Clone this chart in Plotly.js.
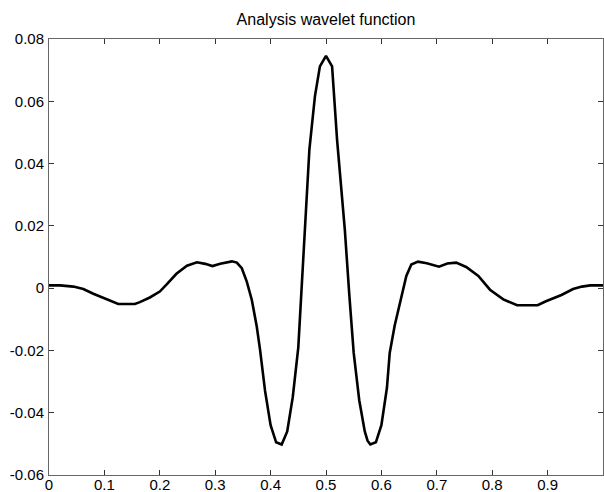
<!DOCTYPE html>
<html>
<head>
<meta charset="utf-8">
<script src="https://cdn.plot.ly/plotly-3.0.1.min.js"></script>
<style>html,body{margin:0;padding:0;background:#fff;}#chart{width:604px;height:492px;}</style>
</head>
<body>
<div id="chart"></div>
<script>
const xs = [0, 0.02, 0.044, 0.062, 0.08, 0.104, 0.125, 0.155, 0.164, 0.182, 0.2, 0.212, 0.23, 0.249, 0.267, 0.282, 0.295, 0.309, 0.33, 0.339, 0.348, 0.357, 0.366, 0.375, 0.381, 0.39, 0.40, 0.41, 0.42, 0.43, 0.44, 0.45, 0.46, 0.47, 0.48, 0.489, 0.5,
  0.511, 0.52, 0.534, 0.542, 0.55, 0.56, 0.57, 0.575, 0.58, 0.59, 0.60, 0.61, 0.615, 0.624, 0.633, 0.645, 0.654, 0.666, 0.682, 0.704, 0.719, 0.735, 0.753, 0.775, 0.796, 0.82, 0.845, 0.882, 0.897, 0.925, 0.946, 0.962, 0.977, 1.0];
const ys = [0.0009, 0.0009, 0.0005, -0.0003, -0.0018, -0.0035, -0.0051, -0.0051, -0.0045, -0.003, -0.0011, 0.0011, 0.0046, 0.0072, 0.0083, 0.0078, 0.0071, 0.0078, 0.0086, 0.0082, 0.0064, 0.0021, -0.0037, -0.0123, -0.0198, -0.033, -0.044, -0.0495, -0.0502, -0.046, -0.035, -0.019, 0.012, 0.0445, 0.0616, 0.0712, 0.0746,
  0.0712, 0.0476, 0.0187, -0.002, -0.0208, -0.036, -0.046, -0.049, -0.0502, -0.0495, -0.044, -0.032, -0.0208, -0.012, -0.0049, 0.0039, 0.0076, 0.0085, 0.008, 0.0069, 0.0079, 0.0082, 0.0068, 0.0039, -0.0005, -0.0036, -0.0055, -0.0055, -0.0042, -0.0022, -0.0003, 0.0005, 0.0009, 0.0009];

const xTickVals = [0, 0.1, 0.2, 0.3, 0.4, 0.5, 0.6, 0.7, 0.8, 0.9, 1];
const xTickText = ["0", "0.1", "0.2", "0.3", "0.4", "0.5", "0.6", "0.7", "0.8", "0.9", "1"];
const yTickVals = [-0.06, -0.04, -0.02, 0, 0.02, 0.04, 0.06, 0.08];
const yTickText = ["-0.06", "-0.04", "-0.02", "0", "0.02", "0.04", "0.06", "0.08"];

const fam = "Liberation Sans, Arial, Helvetica, sans-serif";
const font = {family: fam, size: 15, color: "#000"};
const axisCommon = {
  showline: true, linecolor: "#666", linewidth: 1, mirror: "ticks",
  ticks: "inside", ticklen: 5, tickcolor: "#333", tickwidth: 1,
  showgrid: false, zeroline: false, tickfont: font, tickmode: "array"
};

Plotly.newPlot("chart", [{
  x: xs, y: ys, type: "scatter", mode: "lines",
  line: {color: "#000", width: 2.6, shape: "linear"},
  hoverinfo: "none"
}], {
  width: 604, height: 492,
  margin: {l: 49, r: 1, t: 39, b: 17},
  paper_bgcolor: "#fff", plot_bgcolor: "#fff",
  showlegend: false,
  font: font,
  title: {text: "Analysis wavelet function", font: {family: fam, size: 16, color: "#000"}, x: 0.5, xref: "paper", y: 0.961, yref: "container", yanchor: "middle"},
  xaxis: Object.assign({}, axisCommon, {range: [0, 1], tickvals: xTickVals, ticktext: xTickText, ticklabelstandoff: -4}),
  yaxis: Object.assign({}, axisCommon, {range: [-0.06, 0.08], tickvals: yTickVals, ticktext: yTickText, ticklabelstandoff: 1})
}, {staticPlot: true, displayModeBar: false});
</script>
</body>
</html>
